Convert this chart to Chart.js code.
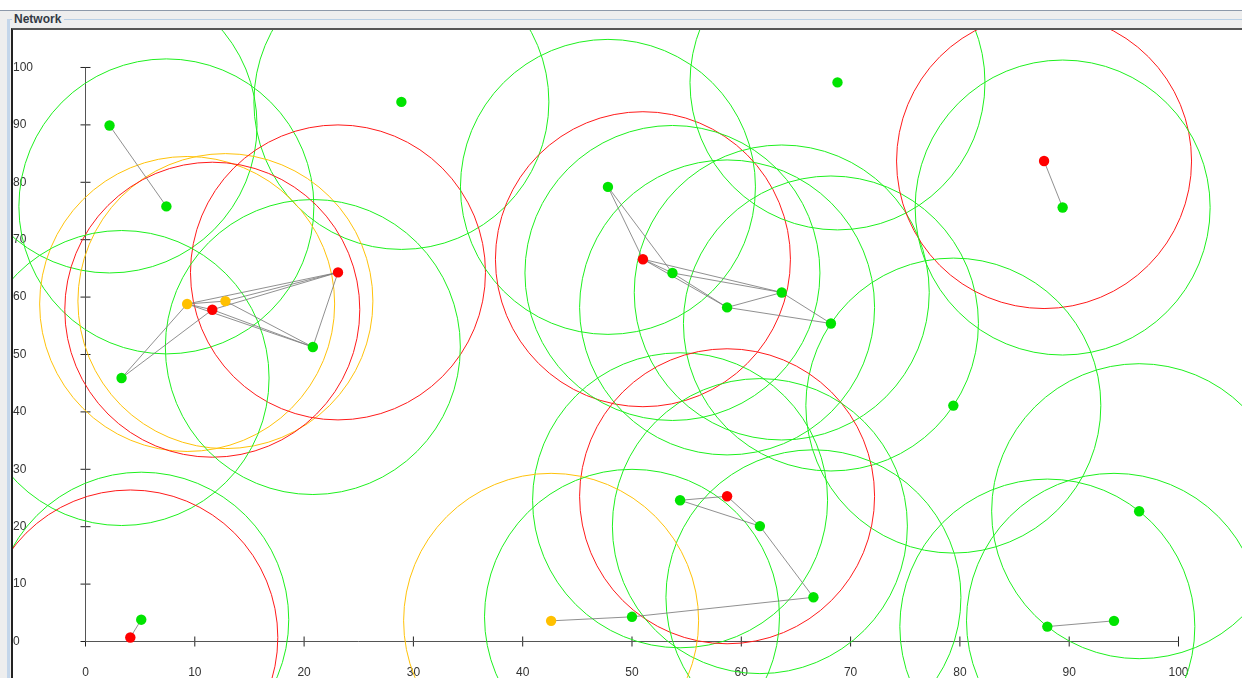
<!DOCTYPE html>
<html>
<head>
<meta charset="utf-8">
<title>Network</title>
<script src="https://cdn.jsdelivr.net/npm/chart.js@4.4.1/dist/chart.umd.min.js"></script>
<style>
  html, body { margin: 0; padding: 0; background: #ffffff; }
  body { width: 1242px; height: 678px; overflow: hidden; position: relative; font-family: "Liberation Sans", Arial, sans-serif; }
  #frame { position: absolute; left: 0; top: 10px; width: 1242px; height: 668px; background: #eeeeee; border-top: 1px solid #8d99aa; box-sizing: border-box; }
  #titleLineH { position: absolute; left: 8px; top: 19px; width: 1234px; height: 1px; background: #b8cfe5; }
  #titleLineV { position: absolute; left: 7px; top: 19px; width: 3px; height: 659px; background: #c4d6ea; }
  #title { position: absolute; left: 12px; top: 12px; height: 14px; line-height: 14px; padding: 0 3px 0 2px; background: #eeeeee; color: #333a45; font: bold 12px "Liberation Sans", Arial, sans-serif; }
  #panel { position: absolute; left: 11px; top: 28px; width: 1231px; height: 650px; background: #ffffff; border-top: 2px solid #555555; border-left: 2px solid #222222; box-sizing: border-box; }
  #chart { position: absolute; left: 13px; top: 30px; }
</style>
</head>
<body>
<div id="frame"></div>
<div id="titleLineH"></div>
<div id="titleLineV"></div>
<div id="title">Network</div>
<div id="panel"></div>
<canvas id="chart" width="1229" height="648"></canvas>
<script>
// Node positions (x, y) and their state
const nodeX = [2.2, 7.4, 28.9, 9.3, 12.8, 11.6, 23.1, 20.8, 3.3, 5.1, 4.1,
               47.8, 51.0, 53.7, 58.7, 63.7, 68.2, 68.8, 87.7, 89.4, 79.4, 96.4,
               54.4, 58.7, 61.7, 66.6, 42.6, 50.0, 88.0, 94.1];
const nodeY = [89.9, 75.8, 94.0, 58.8, 59.3, 57.8, 64.3, 51.3, 45.9, 3.8, 0.7,
               79.2, 66.6, 64.2, 58.2, 60.8, 55.4, 97.4, 83.7, 75.6, 41.1, 22.7,
               24.6, 25.3, 20.1, 7.7, 3.6, 4.3, 2.6, 3.6];
const nodeState = ['ok', 'ok', 'ok', 'warn', 'warn', 'fail', 'fail', 'ok', 'ok', 'ok', 'fail',
                   'ok', 'fail', 'ok', 'ok', 'ok', 'ok', 'ok', 'fail', 'ok', 'ok', 'ok',
                   'ok', 'fail', 'ok', 'ok', 'warn', 'ok', 'ok', 'ok'];

// Links between nodes (indices into the node arrays)
const linkFrom = [0, 3, 3, 3, 4, 5, 3, 4, 5, 6, 3, 5, 9,
                  11, 11, 12, 12, 12, 13, 13, 14, 14, 15, 18,
                  22, 22, 23, 24, 25, 26, 28];
const linkTo   = [1, 4, 5, 6, 6, 6, 7, 7, 7, 7, 8, 8, 10,
                  12, 13, 13, 14, 15, 14, 15, 15, 16, 16, 19,
                  23, 24, 24, 25, 27, 27, 29];

// Axis ticks
const xTicks = [0, 10, 20, 30, 40, 50, 60, 70, 80, 90, 100];
const yTicks = [0, 10, 20, 30, 40, 50, 60, 70, 80, 90, 100];

const stateFill = { ok: '#00e400', warn: '#ffc000', fail: '#ff0000' };
const stateRange = { ok: '#1ef01e', warn: '#ffc20a', fail: '#ff1a1a' };
const tickFont = { family: "'Liberation Sans', Arial, sans-serif", size: 12 };

const nodes = nodeX.map((x, i) => ({ x: x, y: nodeY[i] }));

const datasets = [];

// Axis lines
datasets.push({
  data: [{ x: xTicks[0], y: 0 }, { x: xTicks[xTicks.length - 1], y: 0 }],
  showLine: true, borderColor: '#555555', borderWidth: 1, pointRadius: 0, clip: false, order: 5
});
datasets.push({
  data: [{ x: 0, y: yTicks[0] }, { x: 0, y: yTicks[yTicks.length - 1] }],
  showLine: true, borderColor: '#555555', borderWidth: 1, pointRadius: 0, clip: false, order: 5
});
// Tick marks crossing the axes
datasets.push({
  data: xTicks.map(v => ({ x: v, y: 0 })),
  pointStyle: 'line', pointRotation: 90, pointRadius: 5,
  pointBorderColor: '#222222', pointBorderWidth: 1, clip: false, order: 5
});
datasets.push({
  data: yTicks.map(v => ({ x: 0, y: v })),
  pointStyle: 'line', pointRotation: 0, pointRadius: 5,
  pointBorderColor: '#222222', pointBorderWidth: 1, clip: false, order: 5
});

// Radio range of each node
datasets.push({
  data: nodes,
  pointStyle: 'circle', pointRadius: 147.5,
  pointBackgroundColor: 'rgba(0,0,0,0)',
  pointBorderColor: nodeState.map(s => stateRange[s]),
  pointBorderWidth: 1, clip: false, order: 3
});

// Links
linkFrom.forEach((a, i) => {
  const b = linkTo[i];
  datasets.push({
    data: [nodes[a], nodes[b]],
    showLine: true, borderColor: 'rgba(125,125,125,0.85)', borderWidth: 1,
    pointRadius: 0, clip: false, order: 2
  });
});

// Nodes
datasets.push({
  data: nodes,
  pointStyle: 'circle', pointRadius: 5.2,
  pointBackgroundColor: nodeState.map(s => stateFill[s]),
  pointBorderWidth: 0, clip: false, order: 1
});

new Chart(document.getElementById('chart'), {
  type: 'scatter',
  data: { datasets: datasets },
  options: {
    responsive: false,
    animation: false,
    events: [],
    layout: { padding: 0, autoPadding: false },
    plugins: { legend: { display: false }, tooltip: { enabled: false } },
    scales: {
      x: {
        type: 'linear', position: 'bottom', min: 0, max: 105.81,
        grid: { display: false }, border: { display: false },
        ticks: { padding: 16, color: '#333333', font: tickFont, maxRotation: 0, autoSkip: false },
        afterBuildTicks: s => { s.ticks = xTicks.map(v => ({ value: v })); },
        afterFit: s => { s.height = 36.5; s.paddingLeft = 0; s.paddingRight = 0; s.paddingTop = 0; s.paddingBottom = 0; }
      },
      y: {
        type: 'linear', position: 'left', min: 0, max: 106.53,
        grid: { display: false }, border: { display: false },
        ticks: { padding: 0, crossAlign: 'far', color: '#333333', font: tickFont, autoSkip: false },
        afterBuildTicks: s => { s.ticks = yTicks.map(v => ({ value: v })); },
        afterFit: s => { s.width = 72.5; s.paddingLeft = 0; s.paddingRight = 0; s.paddingTop = 0; s.paddingBottom = 0; }
      }
    }
  }
});
</script>
</body>
</html>
